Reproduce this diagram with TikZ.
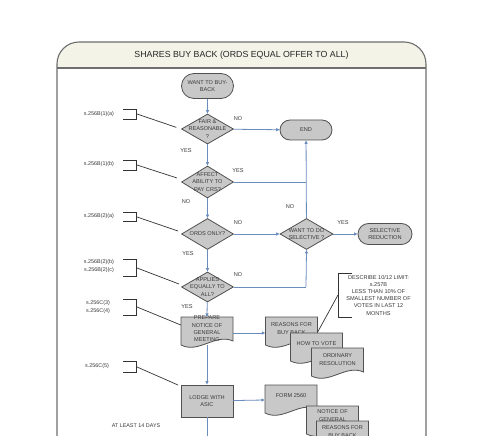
\documentclass[tikz,border=0pt]{standalone}
\usepackage{fontspec}
\setmainfont{Liberation Sans}
\usetikzlibrary{shapes.geometric,shapes.misc,arrows.meta,calc}
\definecolor{nodefill}{HTML}{C8C8C8}
\definecolor{nodeline}{HTML}{505050}
\definecolor{flow}{HTML}{6A8DBE}
\definecolor{framec}{HTML}{6E6E6E}
\definecolor{titlefill}{HTML}{F3F3E8}
\definecolor{txt}{HTML}{3A3A3A}
\newcommand\docnode[5]{%
  \draw[docshape] (#2-26,#3) -- (#2+26,#3) -- (#2+26,#3+24) .. controls (#2+8,#3+16) and (#2-8,#3+37) .. (#2-26,#3+28) -- cycle;
  \node[docbox, label={[yshift=#5]center:#4}] (#1) at (#2,#3+15) {};
}
\newcommand\annbracket[3]{% x-left, ytop, ybottom (bracket opening to left)
  \draw[ann] (123,#2) -- (136,#2) -- (136,#3) -- (123,#3);
}
\begin{document}
\begin{tikzpicture}[x=1pt,y=-1pt,
  every node/.style={font=\fontsize{5.6}{7.3}\selectfont, text=txt, align=center},
  term/.style={rounded rectangle, draw=nodeline, fill=nodefill, line width=0.8pt, minimum width=52pt, minimum height=22pt, inner sep=0pt},
  dia/.style={diamond, draw=nodeline, fill=nodefill, line width=0.8pt, minimum width=52pt, minimum height=30pt, inner sep=0pt},
  proc/.style={rectangle, draw=nodeline, fill=nodefill, line width=0.8pt, minimum width=52pt, minimum height=32pt, inner sep=0pt},
  docshape/.style={draw=nodeline, fill=nodefill, line width=0.8pt},
  docbox/.style={rectangle, minimum width=52pt, minimum height=30pt, inner sep=0pt},
  flowline/.style={draw=flow, line width=0.8pt},
  flowarrow/.style={flowline, -{Triangle[length=3.5pt,width=3pt]}},
  lbl/.style={font=\fontsize{5.6}{7}\selectfont, inner sep=0pt},
  ann/.style={draw=black!80, line width=0.7pt},
  anntext/.style={font=\fontsize{5.4}{8}\selectfont, inner sep=0pt},
  frame/.style={draw=framec, line width=1.1pt}
]
\useasboundingbox (0,0) rectangle (480,436);
\fill[white] (0,0) rectangle (480,436);
% frame
\fill[titlefill, rounded corners=22pt] (57,68) -- (57,42) -- (426,42) -- (426,68);
\draw[frame, rounded corners=22pt] (57,445) -- (57,42) -- (426,42) -- (426,445);
\draw[frame] (57,68) -- (426,68);
\node[font=\fontsize{8.8}{10}\selectfont, text=black!85] (title) at (241.5,55) {SHARES BUY BACK (ORDS EQUAL OFFER TO ALL)};

% main flow nodes
\node[term, minimum height=25pt] (start) at (207.5,86) {WANT TO BUY-\\BACK};
\node[dia, label={center:FAIR \&\\REASONABLE\\?}] (d1) at (207.5,129) {};
\node[term, minimum height=20pt] (end) at (306,130) {END};
\node[dia, minimum height=32pt, label={center:AFFECT\\ABILITY TO\\PAY CRS?}] (d2) at (207.5,182) {};
\node[dia, minimum height=31pt, label={center:ORDS ONLY?}] (d3) at (207.5,234) {};
\node[dia, minimum height=31pt, minimum width=53pt, label={center:WANT TO DO\\SELECTIVE ?}] (sel) at (306.5,234) {};
\node[term, minimum width=54pt, minimum height=21pt] (selred) at (385,234) {SELECTIVE\\REDUCTION};
\node[dia, label={center:APPLIES\\EQUALLY TO\\ALL?}] (d4) at (207.5,287) {};

% documents
\docnode{prep}{207}{317}{PREPARE\\NOTICE OF\\GENERAL\\MEETING}{3pt}
\docnode{rb}{291.5}{317}{REASONS FOR\\BUY BACK}{3.5pt}
\docnode{htv}{316.5}{333}{HOW TO VOTE}{4pt}
\docnode{ordres}{337.5}{348}{ORDINARY\\RESOLUTION}{3.5pt}
\node[proc] (lodge) at (207,401) {LODGE WITH\\ASIC};
\docnode{form}{291}{385}{FORM 2560}{4pt}
\docnode{notice}{332.5}{406}{NOTICE OF\\GENERAL}{5.5pt}
\docnode{rb2}{342.5}{421}{REASONS FOR\\BUY BACK}{4.5pt}

% flow connectors
\coordinate (jy) at (306,182);
\coordinate (ja) at (306,287);
\coordinate (bot) at (207,445);
\draw[flowarrow] (start) -- (d1);
\draw[flowarrow] (d1) -- (d2);
\draw[flowarrow] (d2) -- (d3);
\draw[flowarrow] (d3) -- (d4);
\draw[flowarrow] (d4) -- (prep.north);
\draw[flowarrow] (prep.south |- 0,345) -- (lodge);
\draw[flowline] (lodge) -- (bot);
\draw[flowarrow] (d1) -- (end);
\draw[flowline] (d2.east) -- (jy);
\draw[flowarrow] (sel) -- (end);
\draw[flowarrow] (d3) -- (sel);
\draw[flowarrow] (sel) -- (selred);
\draw[flowline] (d4.east) -- (ja);
\draw[flowarrow] (ja) -- (sel.south);
\draw[flowarrow] (prep.east |- 0,333) -- (rb.west |- 0,333);
\draw[flowarrow] (lodge) -- (form.west);

% yes / no labels
\node[lbl] (n1) at (238,119) {NO};
\node[lbl] (y1) at (186,151) {YES};
\node[lbl] (y2) at (238,171) {YES};
\node[lbl] (n2) at (186,202) {NO};
\node[lbl] (n3) at (290,207) {NO};
\node[lbl] (n4) at (238,223) {NO};
\node[lbl] (y3) at (343,223) {YES};
\node[lbl] (y4) at (188,254) {YES};
\node[lbl] (n5) at (238,275) {NO};
\node[lbl] (y5) at (187,307) {YES};

% left annotations
\node[anntext] (a1) at (99,114) {s.256B(1)(a)};
\annbracket{123}{109}{119}
\coordinate (b1) at (137,114);
\draw[ann, shorten >=5pt] (b1) -- (d1.west);
\node[anntext] (a2) at (99,164) {s.256B(1)(b)};
\annbracket{123}{160}{170}
\coordinate (b2) at (137,165);
\draw[ann] (b2) -- (177,178);
\node[anntext] (a3) at (99,216) {s.256B(2)(a)};
\annbracket{123}{212}{221}
\coordinate (b3) at (137,217);
\draw[ann] (b3) -- (178,231);
\node[anntext] (a4) at (99,266.5) {s.256B(2)(b)\\s.256B(2)(c)};
\annbracket{123}{259}{276}
\coordinate (b4) at (137,268);
\draw[ann] (b4) -- (179,284);
\node[anntext] (a5) at (98,307) {s.256C(3)\\s.256C(4)};
\annbracket{123}{299}{315}
\coordinate (b5) at (137,307);
\draw[ann] (b5) -- (prep.north west |- 0,325);
\node[anntext] (a6) at (97,366) {s.256C(5)};
\annbracket{123}{361}{372}
\coordinate (b6) at (137,367);
\draw[ann] (b6) -- (178,385);
\node[anntext] (days) at (136,426) {AT LEAST 14 DAYS};

% describe note
\node[font=\fontsize{5.6}{7.2}\selectfont] (desc) at (378.5,295) {DESCRIBE 10/12 LIMIT:\\s.257B\\LESS THAN 10\% OF\\SMALLEST NUMBER OF\\VOTES IN LAST 12\\MONTHS};
\draw[ann] (352,273) -- (338,273) -- (338,317) -- (352,317);
\coordinate (dsb) at (338,295);
\draw[ann] (rb.east |- 0,332) -- (dsb);
\end{tikzpicture}
\end{document}
